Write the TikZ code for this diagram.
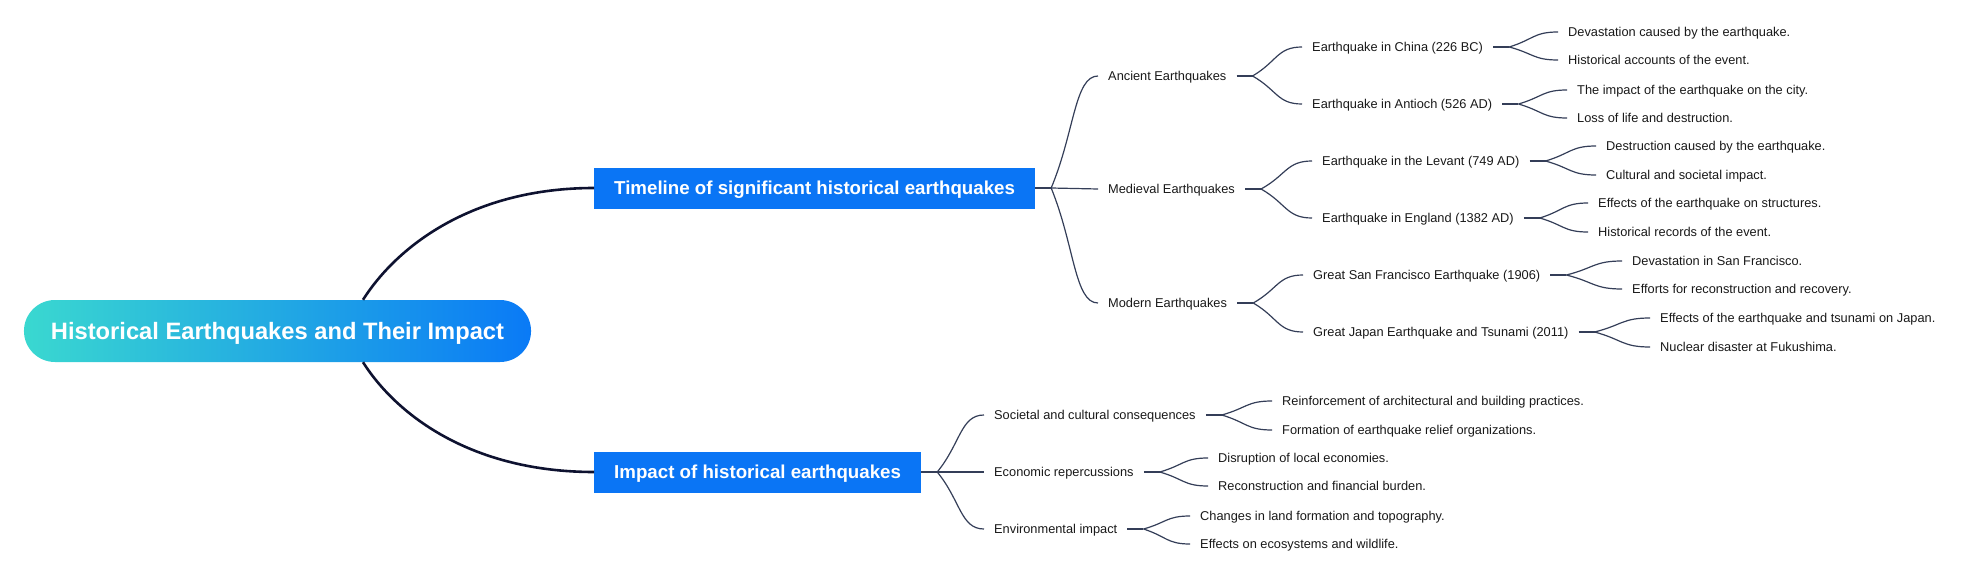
\documentclass[tikz,border=0pt]{standalone}
\usepackage{fontspec}
\setmainfont{Liberation Sans}
\usetikzlibrary{calc}
\definecolor{mainBlue}{RGB}{10,117,245}
\definecolor{rootLeft}{RGB}{58,216,208}
\definecolor{rootRight}{RGB}{10,122,246}
\definecolor{lineDark}{RGB}{14,18,48}
\definecolor{lineSlate}{RGB}{52,62,88}
\definecolor{textDark}{RGB}{25,25,25}
\begin{document}
\begin{tikzpicture}
[x=1pt,y=-1pt,%
  rootDecorate/.style={shape=rectangle,rounded corners=31pt,minimum height=62pt,inner xsep=27pt,text height=17pt,text depth=0pt,left color=rootLeft,right color=rootRight,text=white,font=\bfseries\fontsize{23.7}{28}\selectfont},%
  mainDecorate/.style={shape=rectangle,anchor=west,fill=mainBlue,minimum height=41pt,inner xsep=20pt,text height=13.4pt,text depth=0pt,text=white,font=\bfseries\fontsize{18.7}{22}\selectfont},%
  topicDecorate/.style={anchor=west,inner xsep=10pt,inner ysep=2pt,text height=9.2pt,text depth=0pt,text=textDark,font=\fontsize{12.8}{15}\selectfont},%
  trunkLine/.style={line width=2.6pt,color=lineDark,to path={(\tikztostart) .. controls +(35,#1) and +(-120,0) .. (\tikztotarget.west)}},%
  stubLine/.style={line width=2.6pt,color=lineSlate},%
  branchLine/.style={line width=1.2pt,color=lineSlate,to path={let \p1=($(\tikztostart.east)+(16pt,0pt)$), \p2=(\tikztotarget.west) in (\p1) .. controls ($(\p1)!0.5!(\p2)$) and ($(\p2)+({0.5*(\x1-\x2)},0pt)$) .. (\p2)}}]
\useasboundingbox (0,0) rectangle (1973,575);
%% root and main topics
\node (root) at (277.5,331) [rootDecorate] {Historical Earthquakes and Their Impact};
\node (tl) at (594,188) [mainDecorate] {Timeline of significant historical earthquakes};
\node (im) at (594,472) [mainDecorate] {Impact of historical earthquakes};
\coordinate (rootUp) at ([xshift=85.5pt]root.north);
\coordinate (rootDown) at ([xshift=85.5pt]root.south);
%% subtopics and details
\foreach \nodename/\x/\y/\nodetext in {
  anc/1108/76/Ancient Earthquakes, med/1108/189/Medieval Earthquakes,
  mod/1108/303/Modern Earthquakes, soc/994/415/Societal and cultural consequences,
  eco/994/472/Economic repercussions, env/994/529/Environmental impact,
  chi/1312/47/Earthquake in China (226 BC), ant/1312/104/Earthquake in Antioch (526 AD),
  lev/1322/161/Earthquake in the Levant (749 AD), eng/1322/218/Earthquake in England (1382 AD),
  sfr/1313/275/Great San Francisco Earthquake (1906), jpn/1313/332/Great Japan Earthquake and Tsunami (2011),
  rei/1282/401/Reinforcement of architectural and building practices.,
  frm/1282/430/Formation of earthquake relief organizations.,
  dis/1218/458/Disruption of local economies., rcn/1218/486/Reconstruction and financial burden.,
  chg/1200/516/Changes in land formation and topography., wld/1200/544/Effects on ecosystems and wildlife.,
  dev/1568/32/Devastation caused by the earthquake., acc/1568/60/Historical accounts of the event.,
  cit/1577/90/The impact of the earthquake on the city., los/1577/118/Loss of life and destruction.,
  des/1606/146/Destruction caused by the earthquake., cul/1606/175/Cultural and societal impact.,
  str/1598/203/Effects of the earthquake on structures., rec/1598/232/Historical records of the event.,
  dsf/1632/261/Devastation in San Francisco., rcv/1632/289/Efforts for reconstruction and recovery.,
  tsu/1660/318/Effects of the earthquake and tsunami on Japan., nuc/1660/347/Nuclear disaster at Fukushima.}
{
  \node (\nodename) at (\x-10,\y) [topicDecorate] {\nodetext};
}
%% short thick stubs after each parent
\foreach \nodename in {tl,im,anc,med,mod,soc,eco,env,chi,ant,lev,eng,sfr,jpn}
{
  \draw[stubLine] (\nodename.east) -- ++(16,0);
}
%% trunks from the root
\path (rootUp) edge[trunkLine=-55] (tl)
      (rootDown) edge[trunkLine=55] (im);
%% branches
\path
\foreach \startnode/\endnode in {tl/anc, tl/med, tl/mod, im/soc, im/eco, im/env,
  anc/chi, anc/ant, med/lev, med/eng, mod/sfr, mod/jpn,
  soc/rei, soc/frm, eco/dis, eco/rcn, env/chg, env/wld,
  chi/dev, chi/acc, ant/cit, ant/los, lev/des, lev/cul,
  eng/str, eng/rec, sfr/dsf, sfr/rcv, jpn/tsu, jpn/nuc}
{
  (\startnode) edge[branchLine] (\endnode)
};
\end{tikzpicture}
\end{document}
